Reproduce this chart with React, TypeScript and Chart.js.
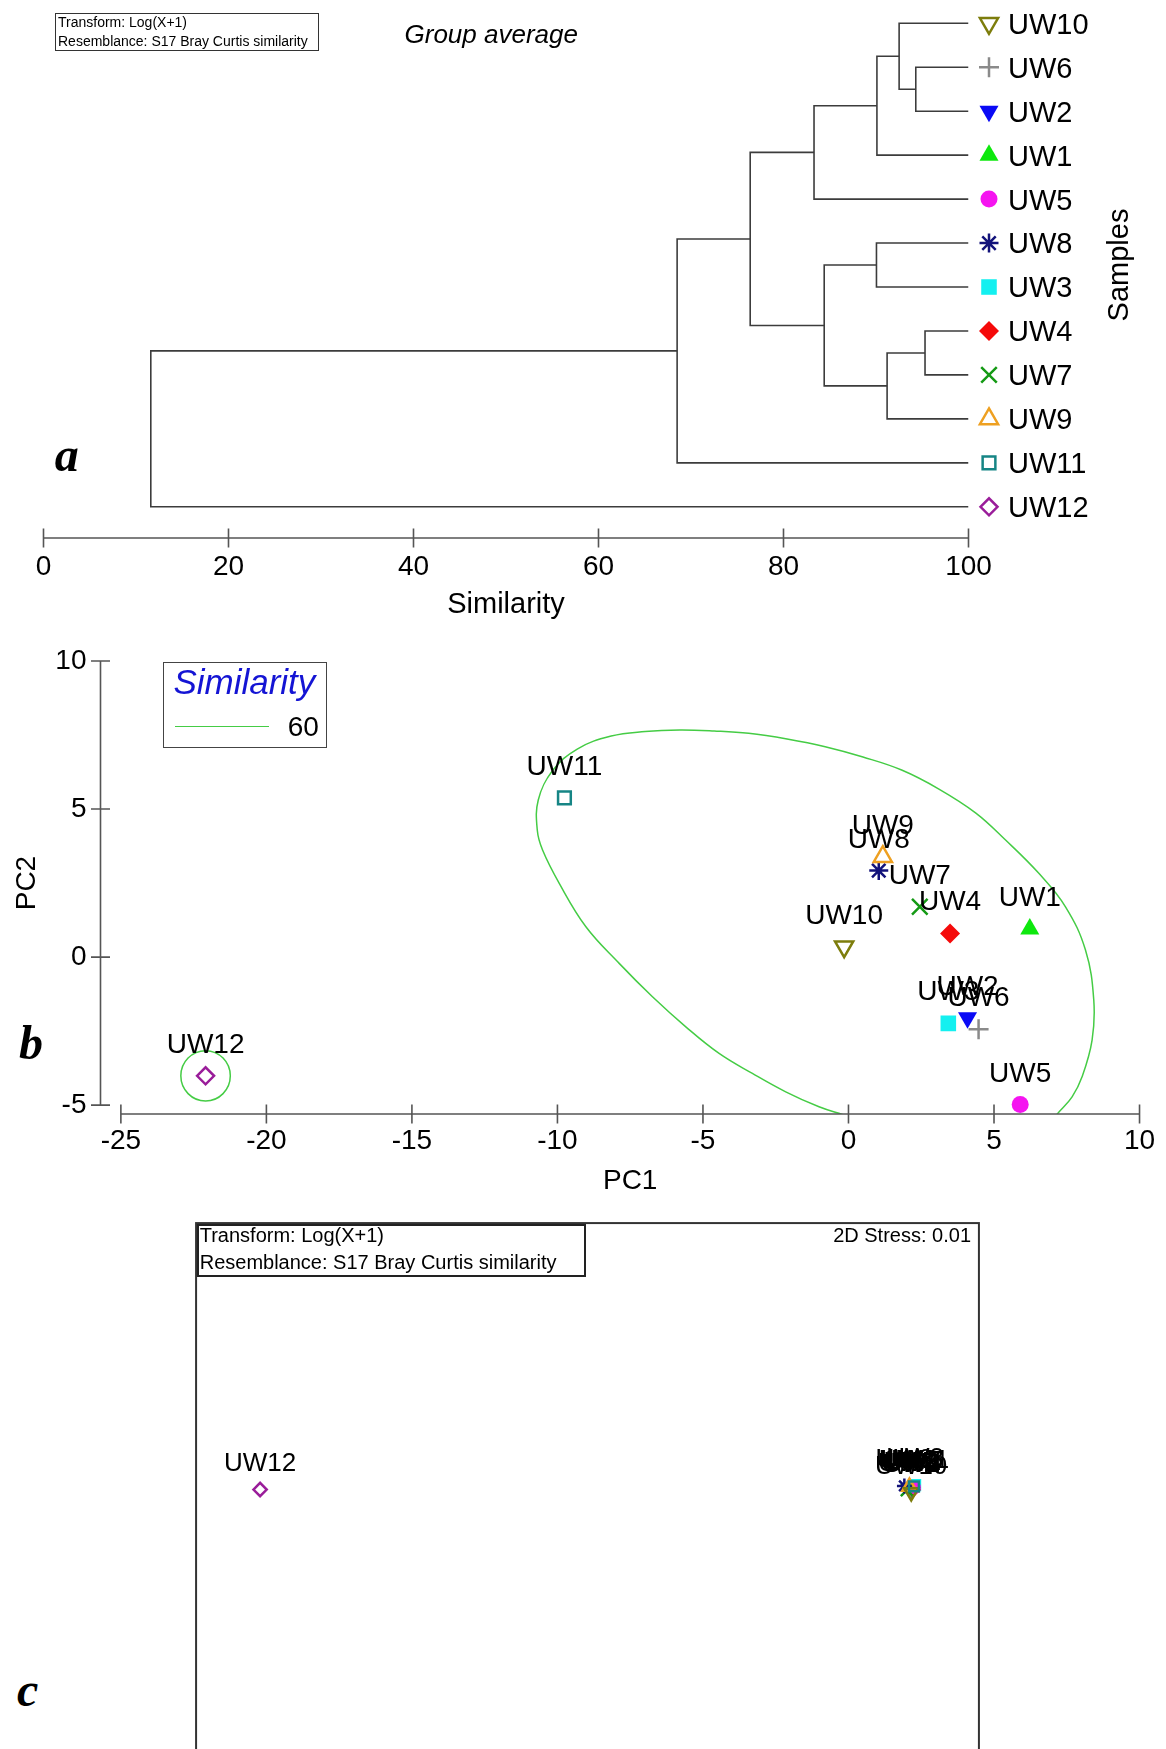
import React, { useEffect, useRef } from 'react';
import { Chart, registerables } from 'chart.js';
import { drawPoint } from 'chart.js/helpers';

Chart.register(...registerables);

const SANS = "'Liberation Sans', Arial, Helvetica, sans-serif";
const SERIF = "'Liberation Serif', 'Times New Roman', Times, serif";
Chart.defaults.font.family = SANS;
Chart.defaults.color = '#000';

// ---------------- Panel a: group-average dendrogram ----------------
const leafOrder = ['UW10', 'UW6', 'UW2', 'UW1', 'UW5', 'UW8', 'UW3', 'UW4', 'UW7', 'UW9', 'UW11', 'UW12'];
// merge i creates node "M<i>"
const mergeLeft = ['UW6', 'UW10', 'M1', 'M2', 'UW8', 'UW4', 'M5', 'M4', 'M3', 'M8', 'M9'];
const mergeRight = ['UW2', 'M0', 'UW1', 'UW5', 'UW3', 'UW7', 'UW9', 'M6', 'M7', 'UW11', 'UW12'];
const mergeSimilarity = [94.3, 92.5, 90.1, 83.3, 90.05, 95.3, 91.2, 84.4, 76.4, 68.5, 11.6];
const similarityTicks = [0, 20, 40, 60, 80, 100];

// ---------------- Panel b: PCA ----------------
const sampleNames = ['UW1', 'UW2', 'UW3', 'UW4', 'UW5', 'UW6', 'UW7', 'UW8', 'UW9', 'UW10', 'UW11', 'UW12'];
const pc1Values = [6.23, 4.09, 3.43, 3.49, 5.9, 4.47, 2.45, 1.04, 1.18, -0.15, -9.76, -22.09];
const pc2Values = [0.95, -2.05, -2.24, 0.8, -4.98, -2.44, 1.7, 2.92, 3.39, 0.35, 5.38, -4.01];
const pc1Ticks = [-25, -20, -15, -10, -5, 0, 5, 10];
const pc2Ticks = [10, 5, 0, -5];
const similarityLevel = 60;
// 60% similarity contour around UW1-UW11 (PC1, PC2)
const contourPc1 = [6.714, 7.168, 7.683, 8.026, 8.37, 8.428, 8.143, 7.456, 6.54, 5.397, 4.377, 3.107, 1.826, 0.498, -0.8, -2.111, -3.429, -4.617, -5.795, -6.986, -8.153, -9.32, -10.178, -10.659, -10.693, -10.511, -9.938, -9.022, -7.878, -6.735, -5.589, -4.446, -3.302, -2.156, -1.013, -0.213, 0.532];
const contourPc2 = [-5.845, -5.304, -4.72, -4.044, -2.804, -1.453, 0.236, 1.699, 2.828, 3.953, 4.865, 5.676, 6.318, 6.757, 7.105, 7.365, 7.557, 7.635, 7.669, 7.618, 7.466, 7.027, 6.284, 5.304, 4.291, 3.615, 2.49, 1.024, -0.213, -1.341, -2.355, -3.253, -3.929, -4.551, -5.057, -5.314, -5.541];
const uw12ContourRadius = 0.85; // PC units

// ---------------- Panel c: nMDS ----------------
const mdsX = [1.66, 1.655, 1.674, 1.665, 1.67, 1.65, 1.632, 1.619, 1.645, 1.654, 1.668, -1.673];
const mdsY = [0.65, 0.638, 0.668, 0.645, 0.656, 0.641, 0.643, 0.664, 0.66, 0.632, 0.662, 0.646];
const stressText = '2D Stress: 0.01';
const transformText = 'Transform: Log(X+1)';
const resemblanceText = 'Resemblance: S17 Bray Curtis similarity';

// ---------------- styles ----------------
type MarkerDef = { style: string; rotation: number; color: string; filled: boolean; radius: number };
const markerDefs: Record<string, MarkerDef> = {
  UW1: { style: 'triangle', rotation: 0, color: '#0ee80e', filled: true, radius: 11 },
  UW2: { style: 'triangle', rotation: 180, color: '#0a0af5', filled: true, radius: 11 },
  UW3: { style: 'rect', rotation: 0, color: '#14f0f0', filled: true, radius: 11 },
  UW4: { style: 'rectRot', rotation: 0, color: '#f50a0a', filled: true, radius: 10 },
  UW5: { style: 'circle', rotation: 0, color: '#f514f0', filled: true, radius: 8.5 },
  UW6: { style: 'cross', rotation: 0, color: '#8a8a8a', filled: false, radius: 10 },
  UW7: { style: 'crossRot', rotation: 0, color: '#159a15', filled: false, radius: 11 },
  UW8: { style: 'star', rotation: 0, color: '#12127a', filled: false, radius: 9.5 },
  UW9: { style: 'triangle', rotation: 0, color: '#eea021', filled: false, radius: 10.5 },
  UW10: { style: 'triangle', rotation: 180, color: '#7d7d0c', filled: false, radius: 10.5 },
  UW11: { style: 'rect', rotation: 0, color: '#168585', filled: false, radius: 9 },
  UW12: { style: 'rectRot', rotation: 0, color: '#9a1d9a', filled: false, radius: 8.5 },
};
const OPEN_WIDTH = 2.5;
const AXIS_COLOR = '#555';
const TREE_COLOR = '#3c3c3c';
const CONTOUR_COLOR = '#45cc45';

function paintMarker(ctx: CanvasRenderingContext2D, name: string, x: number, y: number, scale = 1) {
  const m = markerDefs[name];
  ctx.save();
  ctx.fillStyle = m.filled ? m.color : 'rgba(0,0,0,0)';
  ctx.strokeStyle = m.color;
  const bw = m.filled ? 0 : OPEN_WIDTH;
  ctx.lineWidth = bw || 1;
  drawPoint(ctx, { pointStyle: m.style as any, rotation: m.rotation, radius: m.radius * scale, borderWidth: bw } as any, x, y);
  ctx.restore();
}

function pointOptions(names: string[], scale = 1) {
  return {
    pointStyle: names.map((n) => markerDefs[n].style),
    pointRotation: names.map((n) => markerDefs[n].rotation),
    pointRadius: names.map((n) => markerDefs[n].radius * scale),
    pointBackgroundColor: names.map((n) => (markerDefs[n].filled ? markerDefs[n].color : 'rgba(0,0,0,0)')),
    pointBorderColor: names.map((n) => markerDefs[n].color),
    pointBorderWidth: names.map((n) => (markerDefs[n].filled ? 0 : OPEN_WIDTH)),
  };
}

function buildDendrogram() {
  const pos: Record<string, { x: number; y: number }> = {};
  leafOrder.forEach((n, i) => (pos[n] = { x: 100, y: i }));
  const segs: { x: number; y: number }[][] = [];
  mergeSimilarity.forEach((h, i) => {
    const a = pos[mergeLeft[i]];
    const b = pos[mergeRight[i]];
    segs.push([
      { x: a.x, y: a.y },
      { x: h, y: a.y },
      { x: h, y: b.y },
      { x: b.x, y: b.y },
    ]);
    pos['M' + i] = { x: h, y: (a.y + b.y) / 2 };
  });
  return segs;
}

const hiddenGrid = { display: false, drawTicks: false };

function drawHAxis(ctx: CanvasRenderingContext2D, xs: any, y: number, ticks: number[]) {
  ctx.save();
  ctx.strokeStyle = AXIS_COLOR;
  ctx.lineWidth = 1.6;
  ctx.beginPath();
  ctx.moveTo(xs.getPixelForValue(ticks[0]), y);
  ctx.lineTo(xs.getPixelForValue(ticks[ticks.length - 1]), y);
  ticks.forEach((t) => {
    const px = xs.getPixelForValue(t);
    ctx.moveTo(px, y - 9.5);
    ctx.lineTo(px, y + 9.5);
  });
  ctx.stroke();
  ctx.restore();
}

function dendroConfig(): any {
  const segs = buildDendrogram();
  const plugin = {
    id: 'dendroDecor',
    afterDraw(chart: any) {
      const { ctx, chartArea, scales } = chart;
      const xs = scales.x;
      const ys = scales.y;
      drawHAxis(ctx, xs, chartArea.bottom, similarityTicks);
      const markerX = xs.getPixelForValue(100) + 20.5;
      ctx.save();
      ctx.font = `29px ${SANS}`;
      ctx.fillStyle = '#000';
      ctx.textAlign = 'left';
      ctx.textBaseline = 'alphabetic';
      leafOrder.forEach((n, i) => {
        const y = ys.getPixelForValue(i);
        paintMarker(ctx, n, markerX, y);
        ctx.fillText(n, markerX + 19, y + 10.4);
      });
      ctx.translate(1118, 265);
      ctx.rotate(-Math.PI / 2);
      ctx.textAlign = 'center';
      ctx.fillText('Samples', 0, 10.4);
      ctx.restore();
    },
  };
  return {
    type: 'scatter',
    data: {
      datasets: segs.map((s) => ({
        data: s,
        showLine: true,
        borderColor: TREE_COLOR,
        borderWidth: 1.6,
        pointRadius: 0,
        tension: 0,
        fill: false,
      })),
    },
    options: {
      responsive: false,
      animation: false,
      events: [],
      layout: { padding: { left: 43.5, right: 197.5, top: 1.3, bottom: 0 } },
      plugins: { legend: { display: false }, tooltip: { enabled: false } },
      scales: {
        x: {
          type: 'linear',
          min: 0,
          max: 100,
          afterBuildTicks: (s: any) => {
            s.ticks = similarityTicks.map((v) => ({ value: v }));
          },
          afterFit: (s: any) => {
            s.height = 92;
          },
          grid: hiddenGrid,
          border: { display: false },
          ticks: { font: { size: 28 }, color: '#000', padding: 12.8, maxRotation: 0 },
          title: { display: true, text: 'Similarity', font: { size: 29 }, color: '#000', padding: { top: 0, bottom: 8 } },
        },
        y: { type: 'linear', reverse: true, min: -0.5, max: 11.71, display: false },
      },
    },
    plugins: [plugin],
  };
}

function labelPlugin(names: string[], offset: number, fontSize: number) {
  return {
    id: 'pointLabels',
    afterDatasetsDraw(chart: any) {
      const { ctx } = chart;
      const meta = chart.getDatasetMeta(0);
      ctx.save();
      ctx.font = `${fontSize}px ${SANS}`;
      ctx.fillStyle = '#000';
      ctx.textAlign = 'center';
      ctx.textBaseline = 'alphabetic';
      meta.data.forEach((el: any, i: number) => {
        ctx.fillText(names[i], el.x, el.y - offset + 0.358 * fontSize);
      });
      ctx.restore();
    },
  };
}

function pcaConfig(): any {
  const decor = {
    id: 'pcaDecor',
    beforeDatasetsDraw(chart: any) {
      const { ctx, scales } = chart;
      const xs = scales.x;
      const ys = scales.y;
      const i12 = sampleNames.indexOf('UW12');
      const cx = xs.getPixelForValue(pc1Values[i12]);
      const cy = ys.getPixelForValue(pc2Values[i12]);
      const rx = Math.abs(xs.getPixelForValue(pc1Values[i12] + uw12ContourRadius) - cx);
      const ry = Math.abs(ys.getPixelForValue(pc2Values[i12] + uw12ContourRadius) - cy);
      ctx.save();
      ctx.strokeStyle = CONTOUR_COLOR;
      ctx.lineWidth = 1.5;
      ctx.beginPath();
      ctx.ellipse(cx, cy, rx, ry, 0, 0, Math.PI * 2);
      ctx.stroke();
      ctx.restore();
    },
    afterDraw(chart: any) {
      const { ctx, chartArea, scales } = chart;
      const xs = scales.x;
      const ys = scales.y;
      drawHAxis(ctx, xs, chartArea.bottom, pc1Ticks);
      const x0 = chartArea.left;
      ctx.save();
      ctx.strokeStyle = AXIS_COLOR;
      ctx.lineWidth = 1.6;
      ctx.beginPath();
      ctx.moveTo(x0, ys.getPixelForValue(pc2Ticks[0]));
      ctx.lineTo(x0, ys.getPixelForValue(pc2Ticks[pc2Ticks.length - 1]));
      pc2Ticks.forEach((t) => {
        const py = ys.getPixelForValue(t);
        ctx.moveTo(x0 - 9.5, py);
        ctx.lineTo(x0 + 9.5, py);
      });
      ctx.stroke();
      ctx.fillStyle = '#000';
      ctx.font = `28px ${SANS}`;
      ctx.textAlign = 'center';
      ctx.textBaseline = 'alphabetic';
      const midX = (xs.getPixelForValue(pc1Ticks[0]) + xs.getPixelForValue(pc1Ticks[pc1Ticks.length - 1])) / 2;
      ctx.fillText('PC1', midX, chartArea.bottom + 65.4 + 10);
      const midY = (ys.getPixelForValue(pc2Ticks[0]) + ys.getPixelForValue(pc2Ticks[pc2Ticks.length - 1])) / 2;
      ctx.translate(24.5, midY);
      ctx.rotate(-Math.PI / 2);
      ctx.fillText('PC2', 0, 10);
      ctx.restore();
    },
  };
  return {
    type: 'scatter',
    data: {
      datasets: [
        {
          label: 'samples',
          data: sampleNames.map((_, i) => ({ x: pc1Values[i], y: pc2Values[i] })),
          ...pointOptions(sampleNames),
        },
        {
          label: `Similarity ${similarityLevel}`,
          data: contourPc1.map((x, i) => ({ x, y: contourPc2[i] })),
          showLine: true,
          borderColor: CONTOUR_COLOR,
          borderWidth: 1.5,
          pointRadius: 0,
          tension: 0.4,
          capBezierPoints: false,
          fill: false,
        },
      ],
    },
    options: {
      responsive: false,
      animation: false,
      events: [],
      layout: { padding: { left: 0, right: 25.2, top: 31, bottom: 14 } },
      plugins: { legend: { display: false }, tooltip: { enabled: false } },
      scales: {
        x: {
          type: 'linear',
          min: -25.7,
          max: 10,
          afterBuildTicks: (s: any) => {
            s.ticks = pc1Ticks.map((v) => ({ value: v }));
          },
          afterFit: (s: any) => {
            s.height = 82;
          },
          grid: hiddenGrid,
          border: { display: false },
          ticks: { font: { size: 28 }, color: '#000', padding: 10.9, maxRotation: 0 },
        },
        y: {
          type: 'linear',
          min: -5.3,
          max: 10,
          afterBuildTicks: (s: any) => {
            s.ticks = pc2Ticks.map((v) => ({ value: v }));
          },
          afterFit: (s: any) => {
            s.width = 100.5;
          },
          grid: hiddenGrid,
          border: { display: false },
          ticks: { font: { size: 28 }, color: '#000', padding: 14 },
        },
      },
    },
    plugins: [decor, labelPlugin(sampleNames, 33, 28)],
  };
}

function mdsConfig(): any {
  const frame = {
    id: 'mdsFrame',
    afterDraw(chart: any) {
      const { ctx, chartArea } = chart;
      ctx.save();
      ctx.strokeStyle = '#333';
      ctx.lineWidth = 2;
      ctx.strokeRect(chartArea.left, chartArea.top, chartArea.right - chartArea.left, chartArea.bottom - chartArea.top);
      ctx.restore();
    },
  };
  return {
    type: 'scatter',
    data: {
      datasets: [
        {
          label: 'mds',
          data: sampleNames.map((_, i) => ({ x: mdsX[i], y: mdsY[i] })),
          ...pointOptions(sampleNames, 0.78),
        },
      ],
    },
    options: {
      responsive: false,
      animation: false,
      events: [],
      layout: { padding: { left: 5.8, right: 7.2, top: 6.2, bottom: 11.8 } },
      plugins: { legend: { display: false }, tooltip: { enabled: false } },
      scales: {
        x: { type: 'linear', min: -2, max: 2, display: false },
        y: { type: 'linear', min: -2, max: 2, display: false },
      },
    },
    plugins: [frame, labelPlugin(sampleNames, 28, 26)],
  };
}

function ChartCanvas({ make, left, top, width, height }: { make: () => any; left: number; top: number; width: number; height: number }) {
  const ref = useRef<HTMLCanvasElement>(null);
  useEffect(() => {
    const chart = new Chart(ref.current as HTMLCanvasElement, make());
    return () => chart.destroy();
  }, []);
  return (
    <canvas
      ref={ref}
      width={width}
      height={height}
      style={{ position: 'absolute', left, top, width, height, display: 'block' }}
    />
  );
}

function Txt({ x, y, size, children, style, right }: { x?: number; y: number; size: number; children: React.ReactNode; style?: React.CSSProperties; right?: number }) {
  const lh = size * 1.2;
  return (
    <div
      style={{
        position: 'absolute',
        left: x,
        right,
        top: y - lh / 2,
        fontSize: size,
        lineHeight: `${lh}px`,
        whiteSpace: 'nowrap',
        fontFamily: SANS,
        color: '#000',
        ...style,
      }}
    >
      {children}
    </div>
  );
}

function Letter({ x, baseline, ch }: { x: number; baseline: number; ch: string }) {
  return (
    <div
      style={{
        position: 'absolute',
        left: x,
        top: baseline - 40.2,
        fontFamily: SERIF,
        fontWeight: 'bold',
        fontStyle: 'italic',
        fontSize: 48,
        lineHeight: '48px',
        color: '#000',
      }}
    >
      {ch}
    </div>
  );
}

export default function App() {
  return (
    <div
      style={{
        position: 'absolute',
        left: 0,
        top: 0,
        width: 1166,
        height: 1749,
        overflow: 'hidden',
        background: '#fff',
      }}
    >
      {/* Panel a */}
      <ChartCanvas make={dendroConfig} left={0} top={0} width={1166} height={630} />
      <div style={{ position: 'absolute', left: 54.7, top: 13.3, width: 264.8, height: 37.4, border: '1.5px solid #333', boxSizing: 'border-box' }} />
      <Txt x={58} y={22.5} size={14}>{transformText}</Txt>
      <Txt x={58} y={41.3} size={14}>{resemblanceText}</Txt>
      <Txt x={404.5} y={34.2} size={26} style={{ fontStyle: 'italic' }}>Group average</Txt>
      <Letter x={54.7} baseline={471} ch="a" />

      {/* Panel b */}
      <ChartCanvas make={pcaConfig} left={0} top={630} width={1166} height={580} />
      <div style={{ position: 'absolute', left: 163.4, top: 661.7, width: 163.8, height: 86, border: '1.5px solid #444', boxSizing: 'border-box', background: '#fff' }} />
      <Txt x={173.4} y={682} size={35} style={{ fontStyle: 'italic', color: '#1414d4' }}>Similarity</Txt>
      <div style={{ position: 'absolute', left: 175, top: 726, width: 94, height: 0, borderTop: `1.5px solid ${CONTOUR_COLOR}` }} />
      <Txt x={287.8} y={726.7} size={28}>{String(similarityLevel)}</Txt>
      <Letter x={19} baseline={1059} ch="b" />

      {/* Panel c */}
      <ChartCanvas make={mdsConfig} left={185} top={1212} width={805} height={810} />
      <div style={{ position: 'absolute', left: 196.7, top: 1223.5, width: 389.5, height: 53.5, border: '2px solid #222', boxSizing: 'border-box' }} />
      <Txt x={199.7} y={1235} size={20}>{transformText}</Txt>
      <Txt x={199.7} y={1262.3} size={20}>{resemblanceText}</Txt>
      <Txt right={1166 - 971} y={1235} size={20}>{stressText}</Txt>
      <Letter x={17} baseline={1706} ch="c" />
    </div>
  );
}
